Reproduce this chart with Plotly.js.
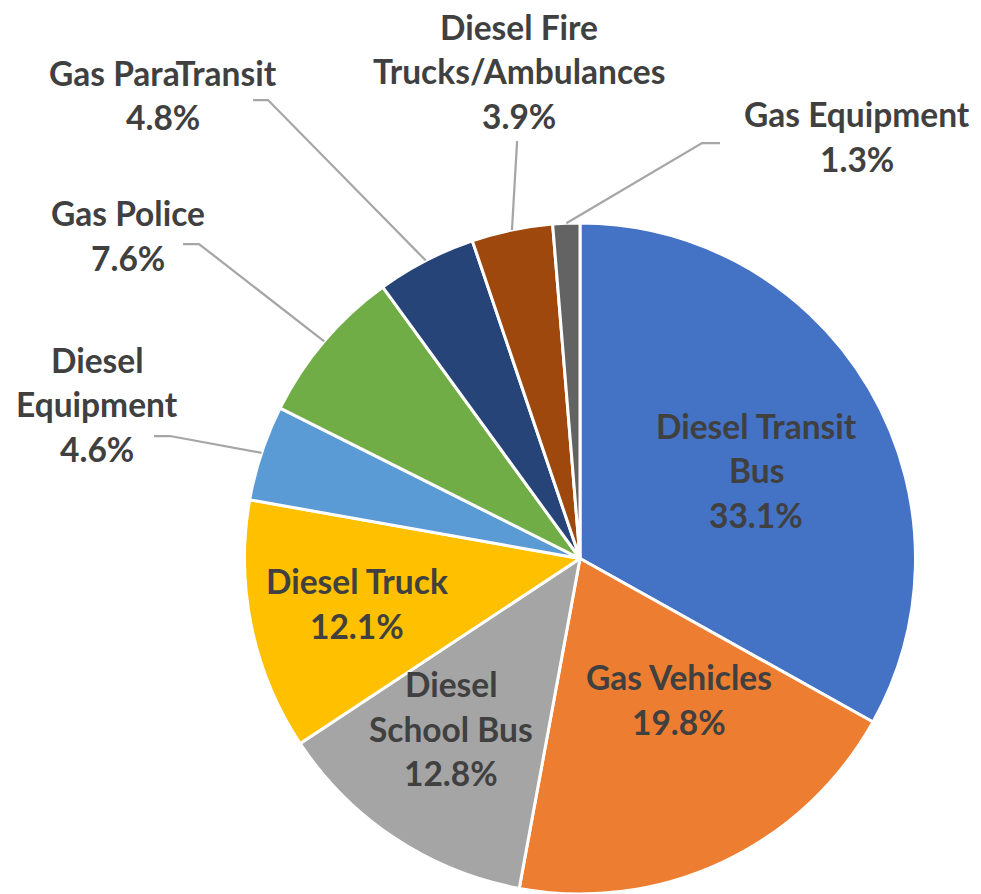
<!DOCTYPE html>
<html>
<head>
<meta charset="utf-8">
<script src="https://cdn.plot.ly/plotly-3.0.1.min.js"></script>
<style>html,body{margin:0;padding:0;background:#fff;overflow:hidden}#chart{width:981px;height:894px}</style>
</head>
<body>
<div id="chart"></div>
<script>
// ---- data ----
const categories = [
  'Diesel Transit<br>Bus',
  'Gas Vehicles',
  'Diesel<br>School Bus',
  'Diesel Truck',
  'Diesel<br>Equipment',
  'Gas Police',
  'Gas ParaTransit',
  'Diesel Fire<br>Trucks/Ambulances',
  'Gas Equipment'
];
const values = [33.1, 19.8, 12.8, 12.1, 4.6, 7.6, 4.8, 3.9, 1.3];
const colors = ['#4472C4', '#ED7D31', '#A5A5A5', '#FFC000', '#5B9BD5', '#70AD47', '#264478', '#9E480E', '#636363'];

// ---- layout (pixels) ----
const W = 981, H = 894;
const pieCenter = {x: 580, y: 558.5}, pieR = 335.5;
const labelPos = [
  {x: 756, y: 426},
  {x: 679, y: 677},
  {x: 451, y: 684},
  {x: 357, y: 581},
  {x: 97,  y: 360},
  {x: 128, y: 213},
  {x: 163, y: 73},
  {x: 519, y: 27},
  {x: 857, y: 114}
];
const lineGap = 44.5;
// leader lines for outside labels: [start, elbow] in pixels
const leaders = {
  4: [[154, 436], [170, 436]],
  5: [[183, 244], [199, 244]],
  6: [[253, 100], [268, 100]],
  7: [[517, 141], [517, 143]],
  8: [[720, 143], [702, 143]]
};
const textColor = '#404040';
const fontFamily = 'Lato, "Noto Sans", sans-serif';
const fontSize = 33.5;

const px = (x, y) => [x / W, 1 - y / H];

// mid-angle of each slice (clockwise from 12 o'clock)
const total = values.reduce((a, b) => a + b, 0);
let cum = 0;
const midAngles = values.map(v => { const m = (cum + v / 2) / total * 2 * Math.PI; cum += v; return m; });

const annotations = [];
categories.forEach((c, i) => {
  const lines = c.split('<br>').concat([values[i].toFixed(1) + '%']);
  lines.forEach((t, k) => {
    const p = px(labelPos[i].x, labelPos[i].y + k * lineGap);
    annotations.push({
      x: p[0], y: p[1], xref: 'paper', yref: 'paper',
      text: t, showarrow: false, xanchor: 'center', yanchor: 'middle',
      font: {family: fontFamily, size: fontSize, color: textColor, weight: 'bold'}
    });
  });
});

const shapes = [];
Object.keys(leaders).forEach(k => {
  const i = +k;
  const a = midAngles[i];
  const ex = pieCenter.x + pieR * Math.sin(a);
  const ey = pieCenter.y - pieR * Math.cos(a);
  const [s, e] = leaders[i];
  const p1 = px(s[0], s[1]), p2 = px(e[0], e[1]), p3 = px(ex, ey);
  shapes.push({
    type: 'path', xref: 'paper', yref: 'paper',
    path: `M ${p1[0]} ${p1[1]} L ${p2[0]} ${p2[1]} L ${p3[0]} ${p3[1]}`,
    line: {color: '#A6A6A6', width: 2.25}
  });
});

const trace = {
  type: 'pie',
  labels: categories.map(c => c.replace('<br>', ' ')),
  values: values,
  sort: false,
  direction: 'clockwise',
  rotation: 0,
  textinfo: 'none',
  hoverinfo: 'label+percent',
  marker: {colors: colors, line: {color: '#FFFFFF', width: 3}},
  domain: {
    x: [(pieCenter.x - pieR) / W, (pieCenter.x + pieR) / W],
    y: [(H - pieCenter.y - pieR) / H, (H - pieCenter.y + pieR) / H]
  }
};

Plotly.newPlot('chart', [trace], {
  width: W, height: H,
  margin: {l: 0, r: 0, t: 0, b: 0},
  paper_bgcolor: '#FFFFFF',
  showlegend: false,
  annotations: annotations,
  shapes: shapes
}, {staticPlot: true});
</script>
</body>
</html>
